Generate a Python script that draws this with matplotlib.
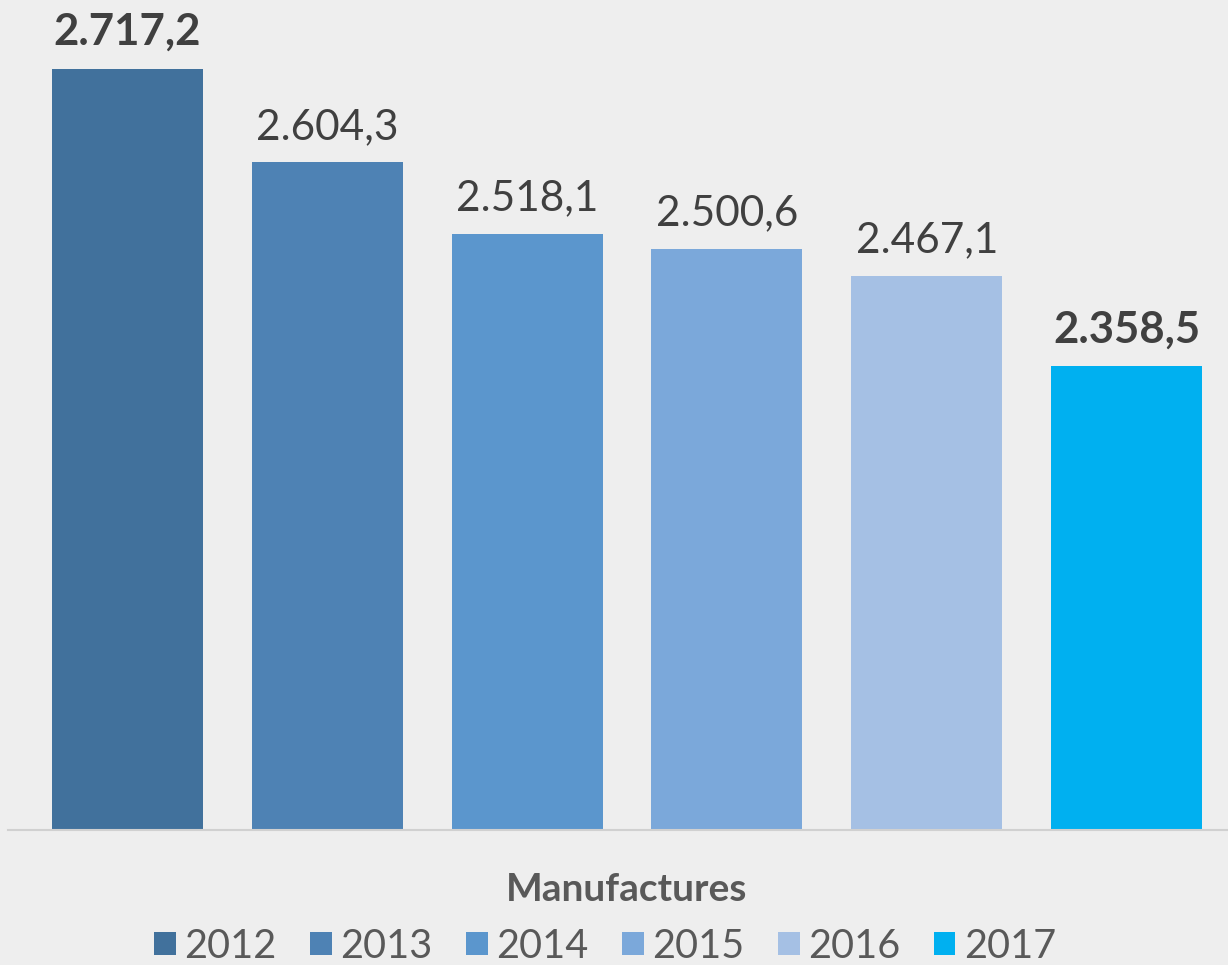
import matplotlib
matplotlib.use("Agg")
import matplotlib.pyplot as plt
from matplotlib.patches import Patch

years = ["2012", "2013", "2014", "2015", "2016", "2017"]
values = [2717.2, 2604.3, 2518.1, 2500.6, 2467.1, 2358.5]
category = "Manufactures"
bold_years = ["2012", "2017"]

colors = ["#41719C", "#4E82B4", "#5B96CD", "#7BA8DA", "#A5C0E4", "#00B0F0"]
bg = "#EEEEEE"


def eu_fmt(v):
    s = f"{v:,.1f}"
    return s.replace(",", "_").replace(".", ",").replace("_", ".")


plt.rcParams["font.family"] = ["Lato", "DejaVu Sans"]

fig = plt.figure(figsize=(12.28, 9.65), dpi=100, facecolor=bg)
ax = fig.add_axes([8 / 1228, 135 / 965, 1220 / 1228, 830 / 965])
ax.set_facecolor(bg)

x = list(range(len(years)))
bars = ax.bar(x, values, width=0.755, color=colors, zorder=2)

for xi, v, yr in zip(x, values, years):
    is_bold = yr in bold_years
    ax.annotate(eu_fmt(v), (xi, v), xytext=(0, 17), textcoords="offset points",
                ha="center", va="baseline", fontsize=31.5 if is_bold else 30.5,
                color="#404040", fontweight="bold" if is_bold else "normal")

ax.set_ylim(1800, 2800)
ax.set_xlim(-0.5975, 5.5075)
ax.set_yticks([])
ax.set_xticks([(len(years) - 1) / 2])
ax.set_xticklabels([category], fontsize=28, fontweight="bold", color="#595959")
ax.tick_params(axis="x", length=0, pad=30)

for side in ["top", "right", "left"]:
    ax.spines[side].set_visible(False)
ax.spines["bottom"].set_color("#D0D0D0")
ax.spines["bottom"].set_linewidth(1.5)

handles = [Patch(facecolor=c, label=y) for c, y in zip(colors, years)]
fig.legend(handles=handles, loc="center", bbox_to_anchor=(605 / 1228, 1 - 946 / 965),
           ncol=6, frameon=False, fontsize=28.5, handlelength=0.55, handleheight=0.55,
           handletextpad=0.21, columnspacing=0.85, labelcolor="#595959",
           borderpad=0.1)

fig.savefig("out.png", dpi=100, facecolor=bg)
